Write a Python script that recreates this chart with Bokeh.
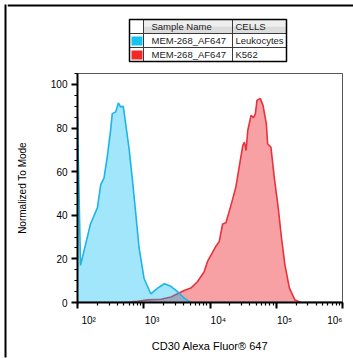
from bokeh.plotting import figure
from bokeh.models import Range1d, SingleIntervalTicker, LogTicker
from bokeh.layouts import row, column
from bokeh.core.properties import value
from bokeh.embed import file_html
from bokeh.resources import INLINE

# ---------------- data ----------------
leuko_x = [100, 111, 157, 200, 224, 251, 282, 316, 335, 377, 414, 447, 490, 533, 598,
           676, 759, 851, 1012, 1276, 1622, 2042, 2570, 3236, 4074, 5129, 1000000]
leuko_y = [85, 17, 36, 43.5, 54, 57, 67, 79, 86.6, 87.4, 91.5, 89.7, 90, 82, 71,
           56, 40.5, 25, 11, 4, 6.6, 8.6, 7.4, 5, 2, 0, 0]

k562_x = [100, 501, 794, 1148, 1820, 2570, 3236, 4074, 5129, 6457, 8128, 9226, 12300,
          13800, 15500, 17400, 20900, 24500, 27500, 31300, 33100, 35100, 37200, 41700,
          45700, 48400, 51300, 57500, 63100, 70800, 74100, 83200, 93300, 107000, 120000,
          135000, 158000, 191000, 240000, 1000000]
k562_y = [0, 0, 0.5, 1.2, 1.5, 2.5, 4, 5.5, 6.6, 9.5, 14, 19, 25.8,
          28, 36, 36.6, 45, 52.7, 62, 72, 73.5, 69.7, 79, 85.8,
          84.8, 86.6, 92.8, 93.5, 90.4, 82, 72.8, 71.2, 57.4, 43.5, 29.7,
          17.4, 6.6, 1.2, 0, 0]

x_tick_values = [100, 1000, 10000, 100000, 1000000]
x_tick_labels = ["10²", "10³", "10⁴", "10⁵", "10⁶"]

table_header = ["Sample Name", "CELLS"]
table_samples = ["MEM-268_AF647", "MEM-268_AF647"]
table_cells = ["Leukocytes", "K562"]
table_colors = ["#14C3F0", "#F02828"]

FONT = "Liberation Sans"
FS = "\u2007"  # figure space, used only to nudge tick-label placement
label_pad = [(FS * 4, ""), (FS * 3, ""), (FS * 3, ""), (FS * 3, ""), ("", FS * 2)]


def blank(w, h, x0, x1, y0, y1):
    f = figure(width=w, height=h, x_range=Range1d(x0, x1), y_range=Range1d(y1, y0),
               output_backend="svg", toolbar_location=None,
               x_axis_location=None, y_axis_location=None, min_border=0,
               frame_align=False)
    f.grid.visible = False
    f.outline_line_color = None
    f.background_fill_color = "white"
    f.border_fill_color = "white"
    return f


# ---------------- outer frame pieces ----------------
left_strip = blank(7, 358, 0, 7, 0, 358)
left_strip.quad(left=[4], right=[6], top=[4], bottom=[357], fill_color="black", line_color=None)

bottom_strip = blank(346, 4, 7, 353, 354, 358)
bottom_strip.quad(left=[7], right=[353], top=[355], bottom=[357], fill_color="black", line_color=None)

# ---------------- legend table ----------------
tab = blank(346, 72, 7, 353, 0, 72)
tab.quad(left=[7], right=[353], top=[4], bottom=[6], fill_color="black", line_color=None)

TL, C1, C2, TR = 129, 143, 232, 286
R0, R1, R2, R3 = 19, 33, 47, 61
tab.quad(left=[C1, C1], right=[TR, TR], top=[R0, (R0 + R1) / 2], bottom=[(R0 + R1) / 2, R1],
         fill_color=["#EEEEEE", "#DCDCDC"], line_color=None)
cl, cr, ct, cb = [], [], [], []
for (x0, x1) in ((TL, C1), (C1, C2), (C2, TR)):
    for (y0, y1) in ((R0, R1), (R1, R2), (R2, R3)):
        cl.append(x0); cr.append(x1); ct.append(y0); cb.append(y1)
tab.quad(left=cl, right=cr, top=ct, bottom=cb, fill_color=None, line_color="#3A3A3A", line_width=1)
tab.quad(left=[TL], right=[TR], top=[R0], bottom=[R3], fill_color=None, line_color="black", line_width=1.5)
tab.quad(left=[131, 131], right=[142, 142], top=[36, 50], bottom=[45, 59],
         fill_color=table_colors, line_color=None)

tx = [151, 235]
texts = list(table_header)
xs = list(tx)
ys = [(R0 + R1) / 2] * 2
for i, (s, c) in enumerate(zip(table_samples, table_cells)):
    ym = (R1 + R2) / 2 if i == 0 else (R2 + R3) / 2
    texts += [s, c]
    xs += tx
    ys += [ym, ym]
tab.text(x=xs, y=ys, text=texts, text_font=value(FONT), text_font_size=value("9.5px"),
         text_baseline="middle", text_align="left", text_color="#222222")

# ---------------- main histogram ----------------
p = figure(width=346, height=282, x_axis_type="log", output_backend="svg",
           toolbar_location=None, x_range=Range1d(100, 1000000), y_range=Range1d(0, 105),
           min_border_left=70, min_border_right=11, min_border_top=1, min_border_bottom=52,
           frame_align=False)
p.grid.visible = False
p.outline_line_color = "#555555"
p.outline_line_width = 1
p.background_fill_color = "white"
p.border_fill_color = "white"

p.varea(x=k562_x, y1=0, y2=k562_y, fill_color="#F02832", fill_alpha=0.44)
p.line(k562_x, k562_y, line_color="#E8323C", line_width=1.6)
p.varea(x=leuko_x, y1=0, y2=leuko_y, fill_color="#00BBF1", fill_alpha=0.37)
p.line(leuko_x, leuko_y, line_color="#1DB5E5", line_width=1.6)

for ax in (p.xaxis[0], p.yaxis[0]):
    ax.axis_line_width = 2
    ax.axis_line_color = "black"
    ax.major_tick_line_width = 2
    ax.major_tick_line_color = "black"
    ax.major_tick_in = 0
    ax.major_tick_out = 6
    ax.minor_tick_in = 0
    ax.minor_tick_out = 3
    ax.minor_tick_line_width = 1.2
    ax.minor_tick_line_color = "black"
    ax.major_label_text_font = FONT
    ax.major_label_text_font_size = "10px"
    ax.major_label_text_color = "black"
    ax.axis_label_text_font = FONT
    ax.axis_label_text_font_style = "normal"
    ax.axis_label_text_color = "black"

p.yaxis[0].ticker = SingleIntervalTicker(interval=20, num_minor_ticks=4)
p.yaxis[0].axis_label = "Normalized To Mode"
p.yaxis[0].axis_label_text_font_size = "10px"
p.yaxis[0].axis_label_standoff = 20
p.yaxis[0].major_label_standoff = 4

p.xaxis[0].ticker = LogTicker(num_minor_ticks=10)
p.xaxis[0].major_label_overrides = {
    float(v): pre + t + post for v, t, (pre, post) in zip(x_tick_values, x_tick_labels, label_pad)
}
p.xaxis[0].axis_label = "CD30 Alexa Fluor® 647"
p.xaxis[0].axis_label_text_font_size = "11px"
p.xaxis[0].axis_label_standoff = 11
p.xaxis[0].major_label_standoff = 6

layout = row(left_strip, column(tab, p, bottom_strip, spacing=0), spacing=0)

open("out.html", "w").write(file_html(layout, INLINE))
